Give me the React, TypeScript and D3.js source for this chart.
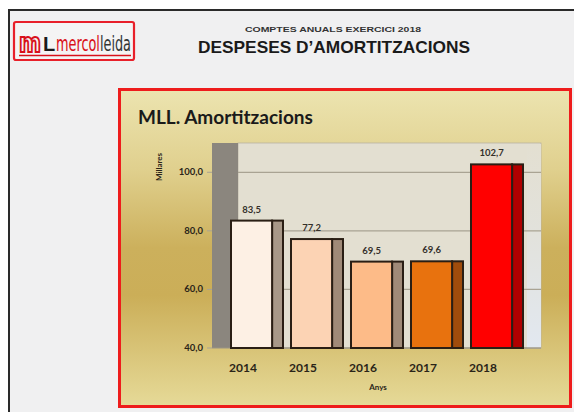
import React from "react";
import * as d3 from "d3";

const years = ["2014", "2015", "2016", "2017", "2018"];
const values = [83.5, 77.2, 69.5, 69.6, 102.7];
const frontColors = ["#fdf0e4", "#fcd3b4", "#fdbb88", "#e8720e", "#ff0000"];
const sideColors = ["#a89888", "#a08a78", "#a08a78", "#a04c0c", "#b00000"];
const yTicks = [40, 60, 80, 100];

const W = 574;
const H = 412;

const fmt = (v: number) => d3.format(".1f")(v).replace(".", ",");

export default function App() {
  const y = d3.scaleLinear().domain([40, 110]).range([348, 143]);
  const x = d3
    .scaleBand<string>()
    .domain(years)
    .range([227, 527])
    .paddingInner(0.1333)
    .paddingOuter(0.0667);
  const bw = x.bandwidth();
  const frontW = bw * 0.79;
  const plotL = 212;
  const wallR = 238;
  const plotR = 541;
  const [yB, yT] = y.range();
  const chartFont = "Lato, 'Open Sans', sans-serif";
  const narrow = "'Liberation Sans Narrow', 'DejaVu Sans Condensed', Arial, sans-serif";

  return (
    <svg
      width={W}
      height={H}
      style={{ position: "absolute", left: 0, top: 0, display: "block" }}
    >
      <defs>
        <linearGradient id="panelGrad" x1="0" y1="0" x2="0" y2="1">
          <stop offset="0%" stopColor="#ece4b0" />
          <stop offset="25%" stopColor="#e0d08e" />
          <stop offset="50%" stopColor="#ccb05c" />
          <stop offset="65%" stopColor="#cbae58" />
          <stop offset="100%" stopColor="#e6da98" />
        </linearGradient>
        <linearGradient id="rightStrip" x1="0" y1="0" x2="0" y2="1">
          <stop offset="0%" stopColor="#e3dfd1" />
          <stop offset="45%" stopColor="#e2e2dc" />
          <stop offset="100%" stopColor="#e2e8f0" />
        </linearGradient>
        <linearGradient id="logoText" gradientUnits="userSpaceOnUse" x1="56" y1="0" x2="131" y2="0">
          <stop offset="0.59" stopColor="#d8101a" />
          <stop offset="0.59" stopColor="#333333" />
        </linearGradient>
      </defs>

      {/* page background */}
      <rect x={0} y={0} width={W} height={H} fill="#ffffff" />
      <rect x={9} y={10} width={W} height={H} fill="#f0f0f1" stroke="#2a2a2a" strokeWidth={2} />

      {/* logo */}
      <rect x={14} y={22} width={120} height={38} rx={2} fill="#f4f4f4" stroke="#e8202a" strokeWidth={2.2} />
      <text
        x={19}
        y={52}
        fontFamily={narrow}
        fontWeight="bold"
        fontSize={27}
        fill="none"
        stroke="#d8101a"
        strokeWidth={2}
        textLength={22}
        lengthAdjust="spacingAndGlyphs"
      >
        m
      </text>
      <text x={43} y={51} fontFamily="Arial, sans-serif" fontWeight="bold" fontSize={20} fill="#1a1a1a">
        L
      </text>
      <text
        x={56}
        y={51}
        fontFamily={narrow}
        fontSize={21}
        fill="url(#logoText)"
        textLength={75}
        lengthAdjust="spacingAndGlyphs"
      >
        mercolleida
      </text>
      <line x1={19} x2={131} y1={55.5} y2={55.5} stroke="#d8101a" strokeWidth={1.5} />

      {/* header */}
      <text
        x={333}
        y={32}
        textAnchor="middle"
        fontFamily="Arial, 'Liberation Sans', sans-serif"
        fontWeight="bold"
        fontSize={8}
        fill="#333"
        textLength={176}
        lengthAdjust="spacingAndGlyphs"
      >
        COMPTES ANUALS  EXERCICI 2018
      </text>
      <text
        x={334}
        y={53}
        textAnchor="middle"
        fontFamily="Arial, 'Liberation Sans', sans-serif"
        fontWeight="bold"
        fontSize={17}
        fill="#1a1a1a"
        textLength={272}
        lengthAdjust="spacingAndGlyphs"
      >
        DESPESES D’AMORTITZACIONS
      </text>

      {/* chart panel */}
      <rect x={119.5} y={89.5} width={451} height={317} fill="url(#panelGrad)" stroke="#ee1c1c" strokeWidth={3} />
      <text x={138} y={124} fontFamily={chartFont} fontWeight="bold" fontSize={19} fill="#1a1a1a">
        MLL. Amortitzacions
      </text>

      {/* plot area */}
      <rect x={wallR} y={yT} width={plotR - wallR} height={yB - yT} fill="#e3dfd1" stroke="#b8b2a2" strokeWidth={0.8} />
      <rect x={527} y={yT + 1} width={plotR - 527} height={yB - yT - 1} fill="url(#rightStrip)" />
      <rect x={plotL} y={yT} width={wallR - plotL} height={yB - yT} fill="#8b867e" />

      {/* gridlines */}
      {yTicks.map((t) => (
        <g key={t}>
          <line x1={wallR} x2={plotR} y1={y(t)} y2={y(t)} stroke="#a9a393" strokeWidth={1.2} />
          <line x1={plotL - 5} x2={plotL} y1={y(t)} y2={y(t)} stroke="#a9a393" strokeWidth={1} />
          <text
            x={203}
            y={y(t) + 3}
            textAnchor="end"
            fontFamily={chartFont}
            fontWeight="bold"
            fontSize={9.5}
            fill="#2a2418"
          >
            {fmt(t)}
          </text>
        </g>
      ))}
      <line x1={plotL} x2={plotR} y1={yB} y2={yB} stroke="#9a9484" strokeWidth={1.2} />

      {/* axis title */}
      <text
        transform={`translate(162,167) rotate(-90)`}
        textAnchor="middle"
        fontFamily={chartFont}
        fontWeight="bold"
        fontSize={8}
        fill="#2a2418"
      >
        Millares
      </text>

      {/* bars */}
      {years.map((yr, i) => {
        const x0 = x(yr) as number;
        const top = y(values[i]);
        return (
          <g key={yr}>
            <rect
              x={x0 + frontW}
              y={top}
              width={bw - frontW}
              height={yB - top}
              fill={sideColors[i]}
              stroke="#2a1e14"
              strokeWidth={2}
            />
            <rect
              x={x0}
              y={top}
              width={frontW}
              height={yB - top}
              fill={frontColors[i]}
              stroke="#2a1e14"
              strokeWidth={2}
            />
            <text
              x={x0 + frontW / 2}
              y={top - 8}
              textAnchor="middle"
              fontFamily={chartFont}
              fontWeight="bold"
              fontSize={9.5}
              fill="#34302a"
            >
              {fmt(values[i])}
            </text>
            <text
              x={x0 + 12}
              y={372}
              textAnchor="middle"
              fontFamily={chartFont}
              fontWeight="bold"
              fontSize={12}
              fill="#2a2418"
            >
              {yr}
            </text>
          </g>
        );
      })}

      <text x={378} y={390} textAnchor="middle" fontFamily={chartFont} fontWeight="bold" fontSize={8} fill="#2a2418">
        Anys
      </text>
    </svg>
  );
}
